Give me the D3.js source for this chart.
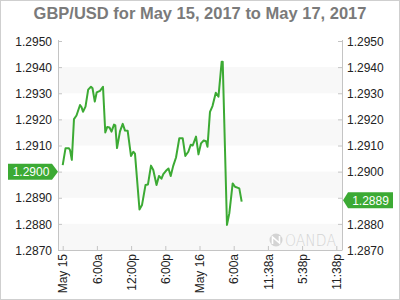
<!DOCTYPE html>
<html>
<head>
<meta charset="utf-8">
<script src="https://cdn.jsdelivr.net/npm/d3@7"></script>
<style>
  html, body { margin: 0; padding: 0; background: #fff; }
  svg { display: block; font-family: "Liberation Sans", Arial, sans-serif; }
</style>
</head>
<body>
<svg id="chart" width="400" height="300"></svg>
<script>
// ---- data ----
const title = "GBP/USD for May 15, 2017 to May 17, 2017";
// hours since May 15, 00:00
const hours = [0, 0.49, 1.1, 1.28, 1.6, 1.98, 2.42, 3.04, 3.3, 3.56, 4.0, 4.47, 4.96, 5.23, 5.63, 5.96,
  6.54, 7.07, 7.47, 7.82, 8.21, 8.56, 9.0, 9.23, 9.53, 10.05, 10.53, 10.93, 11.4, 11.98, 12.39, 12.68,
  13.47, 13.91, 14.53, 14.96, 15.49, 15.89, 16.46, 16.89, 17.33, 17.65, 18.12, 18.56, 18.95, 19.39,
  19.88, 20.46, 21.05, 21.51, 22.04, 22.46, 22.81, 23.39, 23.82, 24.26, 24.74, 25.14, 25.4, 25.84,
  26.28, 26.86, 27.33, 27.89, 28.07, 28.82, 29.23, 29.82, 30.23, 30.98, 31.4];
const values = [1.29025, 1.29089, 1.29089, 1.29083, 1.29045, 1.29201, 1.29215, 1.29255, 1.29247, 1.29229,
  1.29249, 1.29314, 1.29325, 1.29319, 1.29268, 1.29303, 1.29309, 1.29325, 1.29150, 1.29171, 1.29169,
  1.29153, 1.29180, 1.29177, 1.29090, 1.29154, 1.29183, 1.29157, 1.29156, 1.29060, 1.29076, 1.29069,
  1.28855, 1.28872, 1.28949, 1.28951, 1.29023, 1.29006, 1.28949, 1.28983, 1.28973, 1.28990, 1.29003,
  1.29012, 1.28983, 1.29022, 1.29054, 1.29128, 1.29128, 1.29060, 1.29076, 1.29103, 1.29100, 1.29134,
  1.29066, 1.29108, 1.29119, 1.29116, 1.29095, 1.29229, 1.29251, 1.29302, 1.29287, 1.29421, 1.29421,
  1.28796, 1.28840, 1.28955, 1.28942, 1.28936, 1.28885];
const yTicks = [1.2870, 1.2880, 1.2890, 1.2900, 1.2910, 1.2920, 1.2930, 1.2940, 1.2950];
const xTickHours = [0, 6, 12, 18, 24, 30, 36, 42, 48];
const xTickLabels = ["May 15", "6:00a", "12:00p", "6:00p", "May 16", "6:00a", "11:38a", "5:38p", "11:38p"];
const openTag = 1.2900;
const lastTag = 1.2889;

// ---- layout ----
const svg = d3.select("#chart");
const W = 400, H = 300;
const L = 58, R = 342, T = 41, B = 250;
const green = "#3caa34";

const x = d3.scaleLinear().domain([-0.825, 49.0]).range([L, R]);
const y = d3.scaleLinear().domain([1.2870, 1.2950]).range([B, T]);

// outer border
svg.append("rect").attr("x", 0.5).attr("y", 0.5).attr("width", W - 1).attr("height", H - 1)
  .attr("fill", "#fff").attr("stroke", "#cfcfcf");

// title
svg.append("text").attr("x", 200).attr("y", 18.5).attr("text-anchor", "middle")
  .attr("font-size", 16.5).attr("font-weight", "bold").attr("fill", "#7a7a7a").text(title);

// bands
const bandTops = [1.2940, 1.2920, 1.2900, 1.2880];
svg.append("g").selectAll("rect").data(bandTops).join("rect")
  .attr("x", L).attr("width", R - L)
  .attr("y", d => y(d)).attr("height", d => y(d - 0.001) - y(d))
  .attr("fill", "#f8f8f8");

// axes
const axisColor = "#c4c4c4";
const fmt = d3.format(".4f");
// tick labels hidden under the value tags
const hiddenLeft = d => Math.abs(y(d) - y(openTag)) < 9;
const hiddenRight = d => Math.abs(y(d) - y(lastTag)) < 9;
const gL = svg.append("g").attr("transform", `translate(${L},0)`)
  .call(d3.axisLeft(y).tickValues(yTicks).tickFormat(d => hiddenLeft(d) ? "" : fmt(d))
    .tickSizeInner(-4).tickSizeOuter(0).tickPadding(6));
const gR = svg.append("g").attr("transform", `translate(${R},0)`)
  .call(d3.axisRight(y).tickValues(yTicks).tickFormat(d => hiddenRight(d) ? "" : fmt(d))
    .tickSizeInner(-4).tickSizeOuter(0).tickPadding(5));
const gB = svg.append("g").attr("transform", `translate(0,${B})`)
  .call(d3.axisBottom(x).tickValues(xTickHours).tickFormat((d, i) => xTickLabels[i]).tickSizeInner(-4).tickSizeOuter(0));

[gL, gR, gB].forEach(g => {
  g.select(".domain").attr("stroke", axisColor);
  g.selectAll(".tick line").attr("stroke", axisColor);
  g.selectAll("text").attr("fill", "#222").attr("font-size", 12)
    .attr("font-family", "'Liberation Sans', Arial, sans-serif");
});
gL.select(".domain").attr("d", `M0.5,${T - 1}V${B}`);
gR.select(".domain").attr("d", `M0.5,${T - 1}V${B}`);
gL.selectAll(".tick text").attr("dy", "0.35em");
gR.selectAll(".tick text").attr("dy", "0.35em");
gB.selectAll(".tick text")
  .attr("text-anchor", "end")
  .attr("transform", "translate(0,4) rotate(-90)")
  .attr("x", 0).attr("y", 0).attr("dy", "0.35em");

// watermark
const wm = svg.append("g");
wm.append("circle").attr("cx", 276).attr("cy", 240).attr("r", 6.5).attr("fill", "#d4d4d4");
wm.append("path").attr("d", "M272.5,244 L272.5,237 L279.5,243 L279.5,236").attr("stroke", "#fff")
  .attr("stroke-width", 1.6).attr("fill", "none");
wm.append("text").attr("x", 285).attr("y", 245.5).attr("font-size", 15).attr("fill", "#d4d4d4")
  .attr("font-family", "'DejaVu Sans', sans-serif").attr("font-weight", 200)
  .attr("textLength", 51).attr("lengthAdjust", "spacingAndGlyphs").text("OANDA");

// line
const line = d3.line().x(d => x(d[0])).y(d => y(d[1]));
svg.append("path").datum(hours.map((h, i) => [h, values[i]]))
  .attr("d", line).attr("fill", "none").attr("stroke", green).attr("stroke-width", 2)
  .attr("stroke-linejoin", "round");

// value tags
function tag(v, side) {
  const cy = y(v);
  const g = svg.append("g");
  if (side === "left") {
    const tip = L, x0 = 8, x1 = 52;
    g.append("path").attr("d", `M${x0},${cy - 8}H${x1}L${tip},${cy}L${x1},${cy + 8}H${x0}Z`).attr("fill", green);
    g.append("text").attr("x", (x0 + x1) / 2 + 1).attr("y", cy).attr("dy", "0.36em").attr("text-anchor", "middle")
      .attr("fill", "#fff").attr("font-size", 12).text(fmt(v));
  } else {
    const tip = R + 1, x0 = 348, x1 = 393;
    g.append("path").attr("d", `M${x1},${cy - 8}H${x0}L${tip},${cy}L${x0},${cy + 8}H${x1}Z`).attr("fill", green);
    g.append("text").attr("x", (x0 + x1) / 2).attr("y", cy).attr("dy", "0.36em").attr("text-anchor", "middle")
      .attr("fill", "#fff").attr("font-size", 12).text(fmt(v));
  }
}
tag(openTag, "left");
tag(lastTag, "right");
</script>
</body>
</html>
